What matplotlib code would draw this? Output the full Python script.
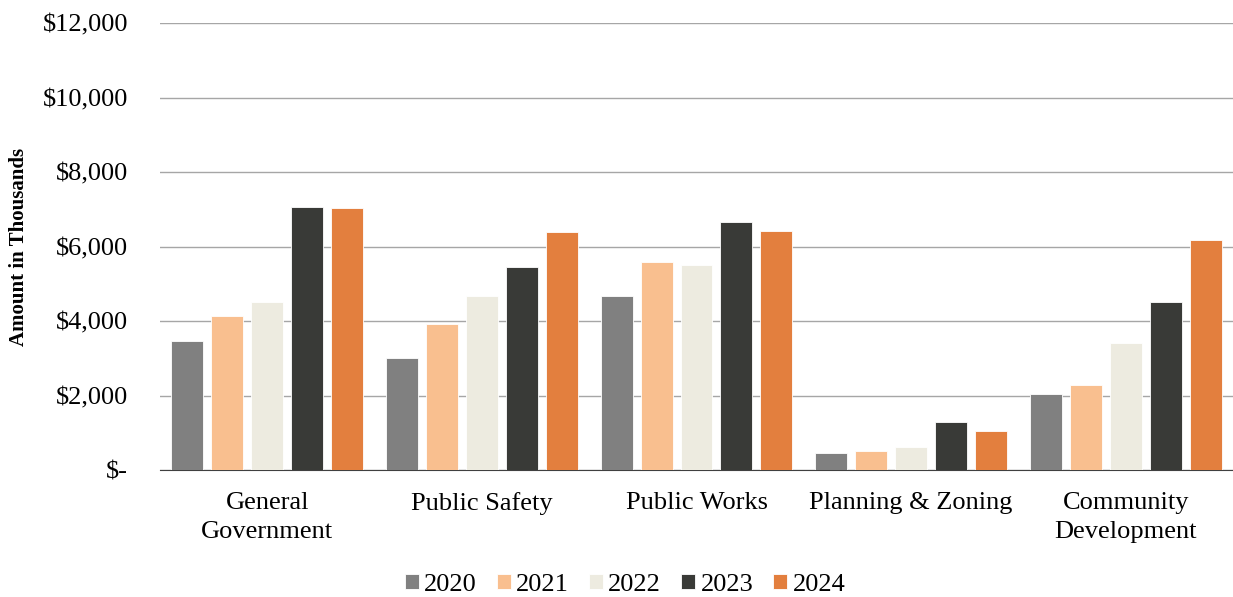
import matplotlib
matplotlib.use('Agg')
import matplotlib.pyplot as plt
import numpy as np
from matplotlib.ticker import FuncFormatter

categories = ['General\nGovernment', 'Public Safety', 'Public Works',
              'Planning & Zoning', 'Community\nDevelopment']
years = ['2020', '2021', '2022', '2023', '2024']
v2020 = [3450, 3020, 4680, 450, 2030]
v2021 = [4140, 3910, 5590, 510, 2270]
v2022 = [4520, 4680, 5500, 620, 3400]
v2023 = [7070, 5460, 6650, 1280, 4510]
v2024 = [7030, 6390, 6420, 1050, 6170]
colors = ['#808080', '#F9BF8F', '#EDEBE0', '#393A37', '#E37F3E']

plt.rcParams['font.family'] = ['Liberation Serif', 'DejaVu Serif']

fig = plt.figure(figsize=(12.33, 5.97), dpi=100)
ax = fig.add_axes([160 / 1233, 1 - 470 / 597, 1073 / 1233, 447 / 597])

x = np.arange(len(categories))
step = 0.186
width = 0.149
series = [v2020, v2021, v2022, v2023, v2024]
for i, (vals, col, yr) in enumerate(zip(series, colors, years)):
    ax.bar(x + (i - 2) * step, vals, width, color=col, label=yr,
           edgecolor='white', linewidth=0.6, zorder=3)

ax.set_xlim(-0.5, len(categories) - 0.5)
ax.set_ylim(0, 12000)
ax.set_yticks(np.arange(0, 12001, 2000))
ax.yaxis.set_major_formatter(FuncFormatter(
    lambda v, p: '$-' if v == 0 else f'${v:,.0f}'))
ax.grid(True, axis='y', color='#A6A6A6', linewidth=1, zorder=0)
for s in ['top', 'right', 'left']:
    ax.spines[s].set_visible(False)
ax.spines['bottom'].set_color('#404040')
ax.set_xticks(x)
ax.set_xticklabels(categories, fontsize=19, linespacing=1.42)
ax.tick_params(axis='x', length=0, pad=16)
ax.tick_params(axis='y', length=0, pad=23, labelsize=19)
ax.set_ylabel('Amount in Thousands', fontsize=15, fontweight='bold', labelpad=10)

# legend centred under the plot, a bit right of figure centre like the original
fig.legend(*ax.get_legend_handles_labels(), loc='center',
           bbox_to_anchor=(625 / 1233, 1 - 585 / 597), ncol=5, frameon=False,
           fontsize=19, handlelength=0.53, handleheight=0.53, handletextpad=0.2,
           columnspacing=0.76)

fig.savefig('out.png', dpi=100)
